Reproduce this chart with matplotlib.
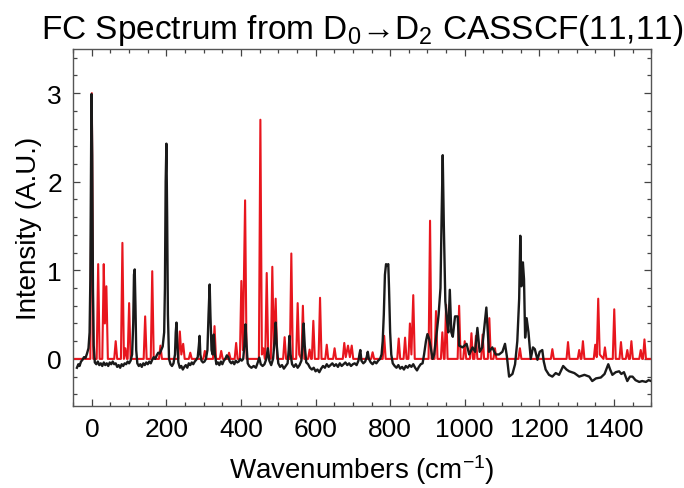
import matplotlib
matplotlib.use("Agg")
import matplotlib.pyplot as plt
from matplotlib.ticker import MultipleLocator

plt.rcParams['font.family'] = ['Liberation Sans', 'DejaVu Sans']
plt.rcParams['mathtext.fontset'] = 'custom'
plt.rcParams['mathtext.rm'] = 'Liberation Sans'
plt.rcParams['mathtext.it'] = 'Liberation Sans'

# ---- data ----
red_wn = [-50, -4, 0, 4, 13, 17, 21, 28, 32, 35, 39, 43, 60, 64, 68, 78, 82, 86, 90, 94,
          96, 100, 104, 139, 143, 147, 158, 162, 166, 180, 184, 188, 232, 236, 240, 245, 249,
          260, 264, 268, 299, 303, 307, 325, 329, 333, 343, 347, 351, 364, 368, 372, 383, 387, 391,
          397, 401, 405, 411, 415, 448, 452, 456, 460, 464, 465, 469, 473, 480, 484, 488, 493, 497,
          513, 517, 521, 531, 535, 539, 548, 552, 556, 562, 566, 570, 580, 584, 588, 590, 594, 598,
          608, 612, 616, 626, 630, 634, 647, 651, 655, 673, 677, 681, 687, 692, 697, 701,
          749, 753, 757, 780, 784, 788, 819, 823, 827, 836, 840, 844, 849, 853, 857, 862, 866,
          903, 907, 911, 919, 923, 927, 936, 940, 944, 946, 950, 954, 981, 985, 989, 996, 1000, 1004,
          1014, 1018, 1022, 1026, 1030, 1034, 1044, 1048, 1052, 1062, 1066, 1070, 1077, 1081, 1085,
          1144, 1148, 1152, 1231, 1235, 1239, 1273, 1277, 1281, 1303, 1307, 1311, 1313, 1317, 1321,
          1346, 1350, 1354, 1358, 1362, 1372, 1376, 1380, 1397, 1401, 1405, 1415, 1419, 1423,
          1432, 1436, 1440, 1443, 1447, 1451, 1468, 1472, 1476, 1478, 1482, 1486, 1500]
red_int = [0, 0, 3.0, 0, 0, 1.07, 0, 0, 1.07, 0.4, 0.82, 0, 0, 0.2, 0, 0, 1.31, 0, 0.12, 0,
           0, 0.63, 0, 0, 0.48, 0, 0, 0.99, 0, 0, 0.15, 0, 0, 0.31, 0.05, 0.17, 0,
           0, 0.07, 0, 0, 0.09, 0, 0, 0.37, 0, 0, 0.09, 0, 0, 0.07, 0, 0, 0.18, 0,
           0, 0.88, 0.1, 1.79, 0, 0, 2.70, 0.05, 0.12, 0, 0, 0.97, 0.05, 0, 1.04, 0.1, 0.68, 0,
           0, 0.245, 0, 0, 1.19, 0, 0, 0.63, 0.05, 0, 0.60, 0, 0, 0.105, 0, 0, 0.43, 0,
           0, 0.69, 0, 0, 0.16, 0, 0, 0.12, 0, 0, 0.18, 0.02, 0.15, 0.02, 0.15, 0,
           0, 0.075, 0, 0, 0.26, 0, 0, 0.23, 0, 0, 0.24, 0, 0, 0.40, 0.05, 0.72, 0,
           0, 1.56, 0, 0, 0.54, 0, 0, 0.3, 0, 0, 0.61, 0, 0, 0.60, 0, 0, 0.2, 0,
           0, 0.29, 0, 0, 0.26, 0, 0, 0.275, 0, 0, 0.46, 0, 0, 0.12, 0,
           0, 0.12, 0, 0, 0.11, 0, 0, 0.19, 0, 0, 0.1, 0, 0, 0.2, 0,
           0, 0.16, 0.02, 0.68, 0.05, 0, 0.13, 0, 0, 0.56, 0, 0, 0.19, 0,
           0, 0.1, 0, 0, 0.2, 0, 0, 0.1, 0, 0, 0.22, 0, 0]

black_wn = [-40, -36, -33, -29, -25, -21, -17, -13, -9, -6, -4, -2, -1, 1, 3, 5, 8, 12, 16, 20,
            24, 28, 32, 36, 40, 44, 48, 52, 56, 60, 64, 68, 72, 76, 80, 84, 88, 92, 96, 100,
            104, 108, 111, 113, 115, 117, 119, 122, 126, 130, 134, 138, 142, 146, 150, 154, 158, 162, 166, 170,
            174, 178, 182, 186, 190, 194, 196, 198, 200, 202, 204, 207, 211, 215, 219, 223, 225, 227, 229, 232,
            236, 240, 244, 248, 252, 256, 260, 264, 268, 272, 276, 280, 284, 287, 289, 291, 294, 298, 302, 306,
            310, 313, 316, 318, 321, 324, 327, 330, 334, 338, 342, 346, 350, 354, 358, 362, 366, 370, 374, 378,
            382, 386, 390, 394, 398, 402, 406, 409, 412, 415, 418, 422, 428, 434, 440, 445, 449, 453, 458, 463,
            468, 472, 476, 481, 486, 490, 493, 496, 500, 505, 510, 515, 520, 525, 528, 530, 533, 537, 542, 547,
            552, 557, 562, 565, 568, 571, 575, 580, 585, 590, 595, 600, 605, 610, 615, 620, 625, 630, 635, 640,
            645, 650, 655, 660, 665, 670, 675, 680, 685, 690, 695, 700, 705, 710, 715, 718, 720, 723, 728, 733,
            737, 740, 743, 748, 753, 758, 763, 768, 773, 777, 780, 783, 786, 789, 792, 795, 797, 800, 803, 807,
            812, 817, 822, 827, 832, 837, 842, 847, 852, 857, 862, 867, 872, 877, 882, 887, 891, 896, 900, 905,
            909, 914, 918, 925, 930, 935, 938, 941, 944, 948, 952, 956, 960, 964, 968, 974, 981, 985, 994, 1005,
            1012, 1021, 1028, 1034, 1040, 1047, 1058, 1065, 1074, 1083, 1092, 1101, 1108, 1113, 1119, 1128, 1135, 1141, 1146, 1149,
            1152, 1156, 1159, 1162, 1166, 1171, 1177, 1183, 1188, 1195, 1201, 1208, 1212, 1217, 1226, 1235, 1244, 1253, 1264, 1273,
            1280, 1294, 1307, 1321, 1334, 1342, 1352, 1365, 1375, 1385, 1390, 1396, 1405, 1414, 1420, 1427, 1436, 1443, 1450, 1458,
            1468, 1476, 1486, 1493, 1500]
black_int = [-0.1, -0.06, -0.08, -0.03, -0.01, 0.02, 0.01, 0.06, 0.12, 0.3, 0.9, 2.4, 2.99, 2.3, 0.8, 0.15, -0.04, -0.06, -0.03, -0.07,
             -0.05, -0.08, -0.04, -0.07, -0.05, -0.08, -0.04, -0.06, -0.03, -0.06, -0.05, -0.09, -0.07, -0.1, -0.06, -0.08, -0.05, -0.06, -0.03, -0.05,
             -0.02, 0.05, 0.4, 0.95, 1.01, 0.6, 0.1, -0.05, -0.08, -0.06, -0.09, -0.05, -0.07, -0.04, -0.06, -0.03, -0.05, -0.01, 0.02, 0.0,
             0.04, 0.07, 0.06, 0.1, 0.14, 0.3, 0.8, 2.0, 2.43, 1.6, 0.5, 0.0, -0.06, -0.08, -0.05, 0.05, 0.3, 0.41, 0.2, -0.04,
             -0.1, -0.08, -0.12, -0.09, -0.07, -0.1, -0.05, -0.07, -0.04, -0.06, -0.03, -0.01, 0.02, 0.15, 0.26, 0.05, -0.02, -0.04, -0.03, 0.0,
             0.1, 0.5, 0.84, 0.5, 0.1, 0.05, 0.275, 0.05, -0.06, -0.04, -0.07, -0.03, -0.06, -0.02, 0.0, 0.04, 0.02, -0.03, -0.05, -0.03,
             -0.06, -0.02, -0.04, -0.03, 0.0, -0.02, 0.0, 0.15, 0.39, 0.15, -0.05, -0.08, -0.1, -0.08, -0.1, -0.04, 0.015, -0.06, -0.08, -0.06,
             0.0, 0.12, -0.02, -0.07, 0.0, 0.2, 0.41, 0.15, -0.05, -0.09, -0.07, -0.11, -0.08, -0.05, 0.1, 0.26, 0.05, -0.06, -0.09, -0.06,
             -0.1, -0.07, -0.02, 0.15, 0.40, 0.15, -0.04, -0.06, -0.1, -0.12, -0.1, -0.14, -0.12, -0.15, -0.11, -0.08, -0.1, -0.06, -0.09, -0.07,
             -0.05, -0.08, -0.06, -0.09, -0.05, -0.08, -0.06, -0.04, -0.07, -0.05, -0.08, -0.06, -0.05, -0.07, -0.02, 0.06, 0.1, -0.02, -0.05, -0.03,
             0.02, 0.08, 0.0, -0.04, -0.06, -0.03, -0.05, -0.02, 0.0, 0.05, 0.2, 0.5, 0.95, 1.07, 1.05, 1.07, 0.8, 0.3, 0.05, -0.05,
             -0.08, -0.1, -0.07, -0.11, -0.09, -0.12, -0.08, -0.1, -0.07, -0.09, -0.06, -0.1, -0.13, -0.09, -0.06, -0.05, 0.05, 0.2, 0.28, 0.22,
             0.12, 0.0, 0.05, 0.3, 0.5, 0.8, 1.6, 2.30, 1.5, 0.65, 0.45, 0.3, 0.78, 0.3, 0.25, 0.48, 0.48, 0.15, 0.13, 0.17,
             0.05, 0.13, 0.08, 0.35, 0.08, 0.13, 0.58, 0.08, 0.13, 0.05, 0.05, 0.08, 0.17, 0.03, -0.20, -0.17, -0.06, 0.2, 0.68, 1.39,
             0.82, 1.09, 0.9, 0.24, 0.46, 0.3, 0.0, 0.13, 0.11, -0.01, 0.08, 0.1, -0.03, -0.12, -0.18, -0.2, -0.16, -0.18, -0.08, -0.12,
             -0.14, -0.16, -0.2, -0.18, -0.2, -0.25, -0.22, -0.21, -0.17, -0.06, -0.12, -0.18, -0.15, -0.14, -0.17, -0.15, -0.25, -0.2, -0.2, -0.24,
             -0.26, -0.25, -0.26, -0.24, -0.25]

title_text = "FC Spectrum from D$_0$\u2192D$_2$ CASSCF(11,11)"
xlabel_text = "Wavenumbers (cm$^{-1}$)"
ylabel_text = "Intensity (A.U.)"

# ---- figure ----
fig = plt.figure(figsize=(6.84, 4.89), dpi=100)
ax = fig.add_axes([0.107, 0.168, 0.845, 0.730])

ax.plot(red_wn, red_int, color='#e8161e', lw=1.5, zorder=2)
ax.plot(black_wn, black_int, color='#1a1a1a', lw=1.7, zorder=3)

ax.set_xlim(-50, 1500)
ax.set_ylim(-0.53, 3.5)
ax.xaxis.set_major_locator(MultipleLocator(200))
ax.xaxis.set_minor_locator(MultipleLocator(50))
ax.yaxis.set_major_locator(MultipleLocator(1))
ax.yaxis.set_minor_locator(MultipleLocator(0.2))
ax.tick_params(which='both', direction='in', top=True, right=True, color='#444444', width=0.9)
ax.tick_params(which='major', length=5, labelsize=19, pad=8)
ax.tick_params(which='minor', length=2.8)
for s in ax.spines.values():
    s.set_color('#555555')
    s.set_linewidth(1.0)

ax.set_title(title_text, fontsize=24, pad=8)
ax.set_xlabel(xlabel_text, fontsize=20, labelpad=8)
ax.set_ylabel(ylabel_text, fontsize=20, labelpad=3.5)

fig.savefig("out.png", dpi=100)
